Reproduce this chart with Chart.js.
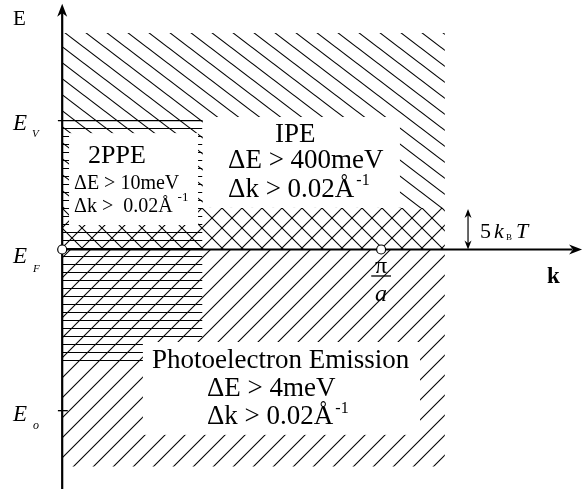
<!DOCTYPE html>
<html>
<head>
<meta charset="utf-8">
<script src="https://cdn.jsdelivr.net/npm/chart.js@4.4.0/dist/chart.umd.min.js"></script>
<style>
  html, body { margin: 0; padding: 0; background: #fff; overflow: hidden; }
  canvas { display: block; }
</style>
</head>
<body>
<canvas id="c" width="583" height="489"></canvas>
<script>
// Energy levels (E_F = 0) and the zone boundary k = π/a (k in units of π/a)
const levelNames = ['E_V', 'E_F', 'E_o'];
const levelValues = [4.0, 0.0, -5.0];
const zoneBoundary = 1.0;
const thermalBand = 1.29;            // 5 k_B T above E_F

// Regions covered by each technique: k range and E range
const regionNames = ['IPE', 'thermal', 'photoemission', '2PPE'];
const regionK = [[0, 1.2], [0, 1.2], [0, 1.2], [0, 0.44]];
const regionE = [[1.29, 6.72], [0, 1.29], [-6.73, 0], [-3.6, 4.03]];

// Resolution captions
const techniqueTitles = ['2PPE', 'IPE', 'Photoelectron Emission'];
const energyResolution = ['\u0394E > 10meV', '\u0394E > 400meV', '\u0394E > 4meV'];
const momentumResolution = ['\u0394k >  0.02\u00C5', '\u0394k > 0.02\u00C5', '\u0394k > 0.02\u00C5'];

const SERIF = "'Liberation Serif', 'Times New Roman', serif";

// Hatch tile: families = [dirX, dirY, x0, y0] line families; rows = horizontal pixel rows
function hatch(w, h, families, rows) {
  const c = document.createElement('canvas');
  c.width = w; c.height = h;
  const g = c.getContext('2d');
  g.strokeStyle = '#000';
  g.lineWidth = 1.1;
  families.forEach(([dx, dy, x0, y0]) => {
    for (let i = -3; i <= 3; i++) {
      const ox = x0 + i * w;
      g.beginPath();
      g.moveTo(ox - 3 * dx, y0 - 3 * dy);
      g.lineTo(ox + 3 * dx, y0 + 3 * dy);
      g.stroke();
    }
  });
  g.fillStyle = '#000';
  (rows || []).forEach(r => g.fillRect(0, r, w, 1));
  return g.createPattern(c, 'repeat');
}

const backslash = hatch(21, 16, [[21, 16, 7, 4.7]]);
const crossed = hatch(20, 20, [[20, 20, 2, 8], [20, -20, 2, 8]]);
const slash = hatch(20, 20, [[20, -20, 11.7, 8.3]]);
const horizontal = hatch(8, 8, [], [0]);
const regionPatterns = [backslash, crossed, slash, horizontal];

const regionSets = regionNames.map((name, i) => ({
  label: name,
  data: [{ x: regionK[i][0], y: regionE[i][1] }, { x: regionK[i][1], y: regionE[i][1] }],
  fill: { value: regionE[i][0] },
  backgroundColor: regionPatterns[i],
  borderColor: 'rgba(0,0,0,0)',
  borderWidth: 1,
  pointRadius: 0,
  order: 10
}));

const lineSet = (label, pts, width) => ({
  label, data: pts, borderColor: '#000', borderWidth: width,
  pointRadius: 0, fill: false, order: 2
});

const kAxisEnd = 1.6, eAxisTop = 7.4, eAxisBottom = -7.43;

const datasets = [
  ...regionSets,
  lineSet('E_V level', [{ x: -0.0135, y: levelValues[0] }, { x: regionK[3][1], y: levelValues[0] }], 1.3),
  lineSet('E_o tick', [{ x: -0.0135, y: levelValues[2] }, { x: 0.0175, y: levelValues[2] }], 1.3),
  lineSet('k axis', [{ x: 0, y: levelValues[1] }, { x: kAxisEnd, y: levelValues[1] }], 2.2),
  lineSet('E axis', [{ x: 0, y: eAxisBottom }, { x: 0, y: eAxisTop }], 2.2),
  {
    label: 'marks',
    data: [{ x: 0, y: levelValues[1] }, { x: zoneBoundary, y: levelValues[1] }],
    showLine: false, pointRadius: 4.5, pointBackgroundColor: '#fff',
    pointBorderColor: '#000', pointBorderWidth: 1.2, order: 0
  }
];

// Caption boxes [kMin, kMax, eMin, eMax]
const panels = [
  [0.0215, 0.426, 0.76, 3.61],
  [0.441, 1.059, 1.29, 4.11],
  [0.253, 1.122, -5.75, -2.87]
];

const labels = [
  { t: 'E', k: -0.154, e: 6.965, f: '21px' },
  { t: 'E', k: -0.154, e: 3.706, f: 'italic 23px' },
  { t: 'V', k: -0.0947, e: 3.489, f: 'italic 11px' },
  { t: 'E', k: -0.154, e: -0.419, f: 'italic 23px' },
  { t: 'F', k: -0.0915, e: -0.698, f: 'italic 11px' },
  { t: 'E', k: -0.154, e: -5.32, f: 'italic 23px' },
  { t: 'o', k: -0.0915, e: -5.57, f: 'italic 12px' },
  { t: 'k', k: 1.52, e: -1.04, f: 'bold 23px' },
  { t: '\u03C0', k: zoneBoundary, e: -0.73, f: '24px', a: 'center' },
  { t: 'a', k: zoneBoundary, e: -1.598, f: 'italic 24px', a: 'center' },
  { t: '5', k: 1.3103, e: 0.356, f: '22px' },
  { t: 'k', k: 1.354, e: 0.356, f: 'italic 22px' },
  { t: 'B', k: 1.3917, e: 0.294, f: '9px' },
  { t: 'T', k: 1.4231, e: 0.356, f: 'italic 22px' },
  { t: techniqueTitles[0], k: 0.081, e: 2.683, f: '26px' },
  { t: energyResolution[0], k: 0.0371, e: 1.877, f: '20px' },
  { t: momentumResolution[0], k: 0.0371, e: 1.163, f: '20px', sup: ['-1', '13px', 5, 11] },
  { t: techniqueTitles[1], k: 0.6673, e: 3.334, f: '27px' },
  { t: energyResolution[1], k: 0.52, e: 2.528, f: '27px' },
  { t: momentumResolution[1], k: 0.52, e: 1.628, f: '27px', sup: ['-1', '16px', 2, 12] },
  { t: techniqueTitles[2], k: 0.2816, e: -3.676, f: '27px' },
  { t: energyResolution[2], k: 0.454, e: -4.545, f: '27px' },
  { t: momentumResolution[2], k: 0.454, e: -5.413, f: '27px', sup: ['-1', '16px', 2, 11] }
];

function arrowHead(ctx, x, y, ux, uy, len, half) {
  // ux,uy: unit vector pointing toward the tip
  const bx = x - ux * len, by = y - uy * len;
  const nx = -uy, ny = ux;
  ctx.beginPath();
  ctx.moveTo(x, y);
  ctx.lineTo(bx + nx * half, by + ny * half);
  ctx.lineTo(x - ux * len * 0.7, y - uy * len * 0.7);
  ctx.lineTo(bx - nx * half, by - ny * half);
  ctx.closePath();
  ctx.fill();
}

const overlay = {
  id: 'overlay',
  afterDatasetsDraw(chart) {
    const { ctx, scales: { x, y } } = chart;
    const px = k => x.getPixelForValue(k), py = e => y.getPixelForValue(e);
    ctx.save();
    ctx.fillStyle = '#fff';
    panels.forEach(([k0, k1, e0, e1]) => {
      ctx.fillRect(px(k0), py(e1), px(k1) - px(k0), py(e0) - py(e1));
    });

    ctx.fillStyle = '#000';
    ctx.strokeStyle = '#000';
    // axis arrow heads
    arrowHead(ctx, px(0), py(7.62), 0, -1, 13, 5);
    arrowHead(ctx, px(1.63), py(0), 1, 0, 13, 5);

    // 5 k_B T double arrow
    const ax = px(1.2725);
    ctx.lineWidth = 1.2;
    ctx.beginPath();
    ctx.moveTo(ax, py(0) - 4);
    ctx.lineTo(ax, py(thermalBand) + 4);
    ctx.stroke();
    arrowHead(ctx, ax, py(thermalBand) + 1, 0, -1, 9, 3.5);
    arrowHead(ctx, ax, py(0), 0, 1, 9, 3.5);

    // fraction bar of π/a
    ctx.lineWidth = 1.3;
    ctx.beginPath();
    ctx.moveTo(px(0.969), py(-0.822));
    ctx.lineTo(px(1.031), py(-0.822));
    ctx.stroke();

    ctx.textBaseline = 'alphabetic';
    labels.forEach(l => {
      ctx.font = `${l.f} ${SERIF}`;
      ctx.textAlign = l.a || 'left';
      const X = px(l.k), Y = py(l.e);
      ctx.fillText(l.t, X, Y);
      if (l.sup) {
        const w = ctx.measureText(l.t).width;
        ctx.font = `${l.sup[1]} ${SERIF}`;
        ctx.textAlign = 'left';
        ctx.fillText(l.sup[0], X + w + l.sup[2], Y - l.sup[3]);
      }
    });
    ctx.restore();
  }
};

new Chart(document.getElementById('c'), {
  type: 'line',
  data: { datasets },
  options: {
    responsive: false,
    animation: false,
    devicePixelRatio: 1,
    events: [],
    layout: { padding: 0, autoPadding: false },
    plugins: { legend: { display: false }, tooltip: { enabled: false }, title: { display: false } },
    scales: {
      x: { type: 'linear', min: -0.195, max: 1.633, display: false },
      y: { type: 'linear', min: -7.43, max: 7.74, display: false }
    }
  },
  plugins: [overlay]
});
</script>
</body>
</html>
